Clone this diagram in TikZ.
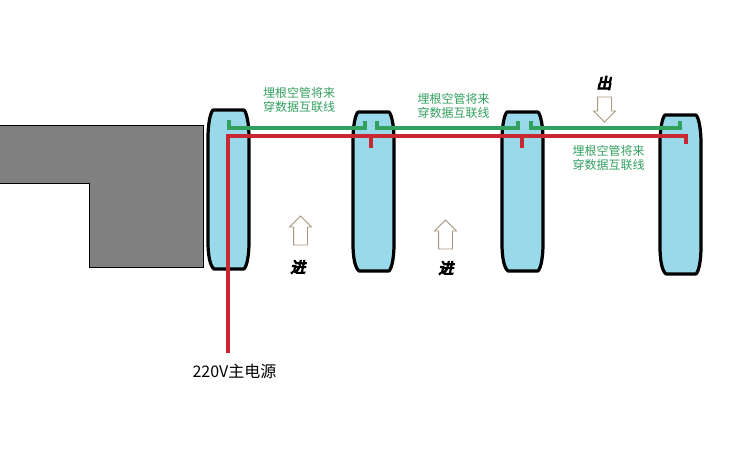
\documentclass[tikz,border=0pt]{standalone}
\usepackage{fontspec}
\usepackage{xcolor}
\usetikzlibrary{shapes.arrows}
\setmainfont{Noto Sans CJK SC}
\newfontfamily\cjkheavy[FakeSlant=0.2,FakeBold=7]{Noto Sans CJK SC}
\definecolor{pillarblue}{RGB}{153,217,234}
\definecolor{pipegreen}{RGB}{50,160,95}
\definecolor{wirered}{RGB}{200,40,50}
\definecolor{arrowtan}{RGB}{170,150,125}
\tikzstyle{pillar-line} = [draw=black, line width=3.2pt, fill=pillarblue, line join=round]
\tikzstyle{pipe-line} = [draw=pipegreen, line width=3.2pt]
\tikzstyle{wire-line} = [draw=wirered, line width=3.2pt]
\tikzstyle{pipe-note} = [text=pipegreen, font=\fontsize{12}{14}\selectfont, align=center, inner sep=0pt]
\tikzstyle{flow-arrow} = [draw=arrowtan, line width=0.9pt, fill=white, single arrow, shape border rotate=90, 
    minimum height=29pt, minimum width=21pt, single arrow head extend=4pt, inner sep=6.5pt]
\tikzstyle{flow-text} = [font=\cjkheavy\fontsize{15}{15}\selectfont, inner sep=0pt]
\tikzset{
    pillar/.pic={
        \path[pillar-line] (5,0) -- (36,0) .. controls (39,3) and (41,15) .. (41,28) -- (41,132)
            .. controls (41,145) and (39,156) .. (36,159) -- (6,159)
            .. controls (2,156) and (0,145) .. (0,132) -- (0,28)
            .. controls (0,15) and (2,3) .. (5,0) -- cycle;
    }
}
\begin{document}
\begin{tikzpicture}[x=1pt,y=-1pt]
\useasboundingbox (0,0) rectangle (754,458);
\path[draw=black, line width=0.6pt, fill=black!50] (-2,125) -- (203,125) -- (203,267) -- (89,267) -- (89,183) -- (-2,183) -- cycle;
\pic (pillarA) at (208,110) {pillar};
\pic (pillarB) at (353,112) {pillar};
\pic (pillarC) at (502,112) {pillar};
\pic (pillarD) at (660,115) {pillar};
\coordinate (pipeA) at (229,120);
\coordinate (pipeB) at (365,121);
\coordinate (pipeC) at (377,121);
\coordinate (pipeD) at (518,121);
\coordinate (pipeE) at (531,121);
\coordinate (pipeF) at (680,121);
\draw[pipe-line] (pipeA) |- (365,128) -- (pipeB);
\draw[pipe-line] (pipeC) |- (518,128) -- (pipeD);
\draw[pipe-line] (pipeE) |- (680,128) -- (pipeF);
\node[inner sep=0pt, font=\fontsize{16}{16}\selectfont] (mains) at (234.5,371) {220V主电源};
\coordinate (wireIn) at (228,353);
\coordinate (wireEnd) at (686,144);
\coordinate (tapB) at (371,148);
\coordinate (tapC) at (522,148);
\draw[wire-line] (wireIn) |- (686,136) -- (wireEnd);
\draw[wire-line] (371,136) -- (tapB);
\draw[wire-line] (522,136) -- (tapC);
\node[pipe-note] (noteA) at (299,100) {埋根空管将来\\穿数据互联线};
\node[pipe-note] (noteB) at (453.5,106) {埋根空管将来\\穿数据互联线};
\node[pipe-note] (noteC) at (608.5,158) {埋根空管将来\\穿数据互联线};
\node[flow-arrow] (inA) at (300.5,234) {};
\node[flow-arrow] (inB) at (445.5,238) {};
\node[flow-arrow, shape border rotate=270, minimum height=25pt, minimum width=20pt] (outA) at (604.5,106) {};
\node[flow-text] (inAtext) at (298,267) {进};
\node[flow-text] (inBtext) at (446,268) {进};
\node[flow-text] (outAtext) at (604,83) {出};
\end{tikzpicture}
\end{document}
